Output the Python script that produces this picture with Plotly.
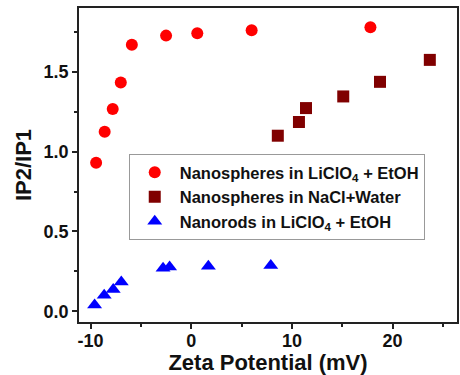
import plotly.graph_objects as go

# Data
sph_licl_x = [-9.45, -8.6, -7.8, -7.0, -5.9, -2.5, 0.6, 6.0, 17.8]
sph_licl_y = [0.93, 1.125, 1.267, 1.433, 1.67, 1.727, 1.742, 1.76, 1.779]

sph_nacl_x = [8.6, 10.7, 11.4, 15.1, 18.75, 23.7]
sph_nacl_y = [1.10, 1.186, 1.273, 1.346, 1.4375, 1.575]

rod_licl_x = [-9.6, -8.65, -7.75, -6.95, -2.8, -2.15, 1.7, 7.9]
rod_licl_y = [0.04, 0.10, 0.137, 0.183, 0.27, 0.277, 0.283, 0.287]

names = ["Nanospheres in LiClO<sub>4</sub> + EtOH",
         "Nanospheres in NaCl+Water",
         "Nanorods in LiClO<sub>4</sub> + EtOH"]

x_tickvals = [-10, 0, 10, 20]
x_ticktext = ["-10", "0", "10", "20"]
y_tickvals = [0.0, 0.5, 1.0, 1.5]
y_ticktext = ["0.0", "0.5", "1.0", "1.5"]

FONT = "Liberation Sans, Arial, sans-serif"

fig = go.Figure()
fig.add_trace(go.Scatter(x=sph_licl_x, y=sph_licl_y, mode="markers", name=names[0],
                         marker=dict(symbol="circle", size=12, color="#FF0000")))
fig.add_trace(go.Scatter(x=sph_nacl_x, y=sph_nacl_y, mode="markers", name=names[1],
                         marker=dict(symbol="square", size=12, color="#800000")))
fig.add_trace(go.Scatter(x=rod_licl_x, y=rod_licl_y, mode="markers", name=names[2],
                         marker=dict(symbol="triangle-up", size=13, color="#0000FF")))

axis_common = dict(showgrid=False, zeroline=False, showline=True, mirror=True,
                   linecolor="#222222", linewidth=1.5, ticks="outside",
                   ticklen=5, tickwidth=1.5, tickcolor="#222222",
                   tickfont=dict(family=FONT, size=18, color="#111111", weight=700))

fig.update_xaxes(range=[-11.15, 26.4], tickvals=x_tickvals, ticktext=x_ticktext,
                 ticklabelstandoff=-3,
                 title=dict(text="Zeta Potential (mV)", standoff=3,
                            font=dict(family=FONT, size=22, color="#111111", weight=700)),
                 minor=dict(tickvals=[-5, 5, 15, 25], ticklen=3, tickwidth=1.5,
                            tickcolor="#222222", ticks="outside"),
                 **axis_common)
fig.update_yaxes(range=[-0.067, 1.9], tickvals=y_tickvals, ticktext=y_ticktext,
                 title=dict(text="IP2/IP1", standoff=6,
                            font=dict(family=FONT, size=22, color="#111111", weight=700)),
                 minor=dict(tickvals=[0.25, 0.75, 1.25, 1.75], ticklen=3, tickwidth=1.5,
                            tickcolor="#222222", ticks="outside"),
                 **axis_common)

fig.update_layout(
    width=460, height=375,
    margin=dict(l=79, r=1, t=8, b=53),
    paper_bgcolor="white", plot_bgcolor="white",
    showlegend=True,
    legend=dict(x=0.1316, y=0.535, xanchor="left", yanchor="top",
                bgcolor="white", bordercolor="#999999", borderwidth=1,
                font=dict(family=FONT, size=16.5, color="#111111", weight=700),
                tracegroupgap=0, itemwidth=40),
)

fig.write_html("out.html", config={"displayModeBar": False},
               post_script="document.body.style.margin='0px';document.body.style.overflow='hidden';")
